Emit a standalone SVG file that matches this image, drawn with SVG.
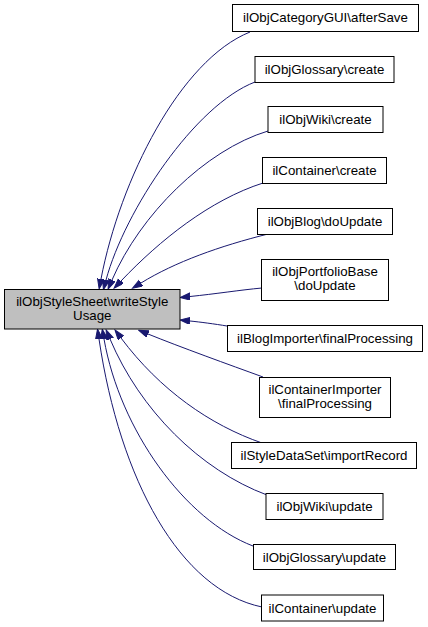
<svg xmlns="http://www.w3.org/2000/svg" width="428" height="627" viewBox="0 0 428 627">
<style>
.n rect{fill:#ffffff;stroke:#000000;stroke-width:1}
.m rect{fill:#bfbfbf;stroke:#000000;stroke-width:1}
text{font-family:"Liberation Sans",Arial,sans-serif;font-size:13.3px;fill:#000000;text-anchor:middle}
.e path{fill:none;stroke:#191970;stroke-width:1;marker-end:url(#ah)}
</style>
<defs>
<marker id="ah" markerUnits="userSpaceOnUse" markerWidth="11" markerHeight="8" refX="0" refY="3.5" orient="auto">
<path d="M0,0 L10,3.5 L0,7 z" fill="#191970" stroke="#191970" stroke-width="1"/>
</marker>
</defs>
<rect width="428" height="627" fill="#ffffff"/>
<g id="edges" class="e">
<path d="M250,32 C180,60 120,180 101,279"/>
<path d="M255,82 C195,105 125,210 106,280"/>
<path d="M268,131 C205,150 140,215 112,280"/>
<path d="M263,183 C210,200 160,240 121,281"/>
<path d="M268,234 C220,246 175,262 141,283"/>
<path d="M262,288 C240,290 215,294 190,296.5"/>
<path d="M227,326 C215,324 200,322 190,321"/>
<path d="M263,377 C230,365 180,347 148,334"/>
<path d="M262,443 C210,425 160,390 121,338"/>
<path d="M267,495 C200,470 140,410 110,339"/>
<path d="M253,546 C185,520 120,430 104,339"/>
<path d="M262,607 C180,590 120,480 99,339"/>
</g>
<g id="main" class="m">
<rect x="4.5" y="289.5" width="175.5" height="39.5"/>
<text x="92.25" y="305.5">ilObjStyleSheet\writeStyle</text>
<text x="92.25" y="319.5">Usage</text>
</g>
<g id="n1" class="n">
<rect x="232.5" y="4.5" width="186" height="27"/>
<text x="325.5" y="22">ilObjCategoryGUI\afterSave</text>
</g>
<g id="n2" class="n">
<rect x="255" y="56.5" width="139" height="26"/>
<text x="324.5" y="74">ilObjGlossary\create</text>
</g>
<g id="n3" class="n">
<rect x="268" y="106.5" width="115" height="26"/>
<text x="325.5" y="124">ilObjWiki\create</text>
</g>
<g id="n4" class="n">
<rect x="262.5" y="157.5" width="124" height="26"/>
<text x="324.5" y="175">ilContainer\create</text>
</g>
<g id="n5" class="n">
<rect x="257.5" y="208.5" width="135" height="26"/>
<text x="325" y="226">ilObjBlog\doUpdate</text>
</g>
<g id="n6" class="n">
<rect x="261.5" y="259.5" width="127" height="41"/>
<text x="325" y="276">ilObjPortfolioBase</text>
<text x="325" y="290">\doUpdate</text>
</g>
<g id="n7" class="n">
<rect x="227.5" y="325.5" width="195" height="26"/>
<text x="325" y="343">ilBlogImporter\finalProcessing</text>
</g>
<g id="n8" class="n">
<rect x="259.5" y="377.5" width="131" height="40"/>
<text x="325" y="393.5">ilContainerImporter</text>
<text x="325" y="407.5">\finalProcessing</text>
</g>
<g id="n9" class="n">
<rect x="231.5" y="442.5" width="185" height="26"/>
<text x="324" y="460">ilStyleDataSet\importRecord</text>
</g>
<g id="n10" class="n">
<rect x="266" y="493.5" width="117" height="26"/>
<text x="324.5" y="511">ilObjWiki\update</text>
</g>
<g id="n11" class="n">
<rect x="253.5" y="544.5" width="142" height="25"/>
<text x="324.5" y="561.5">ilObjGlossary\update</text>
</g>
<g id="n12" class="n">
<rect x="261.5" y="595" width="122" height="26"/>
<text x="322.5" y="612.5">ilContainer\update</text>
</g>
</svg>
